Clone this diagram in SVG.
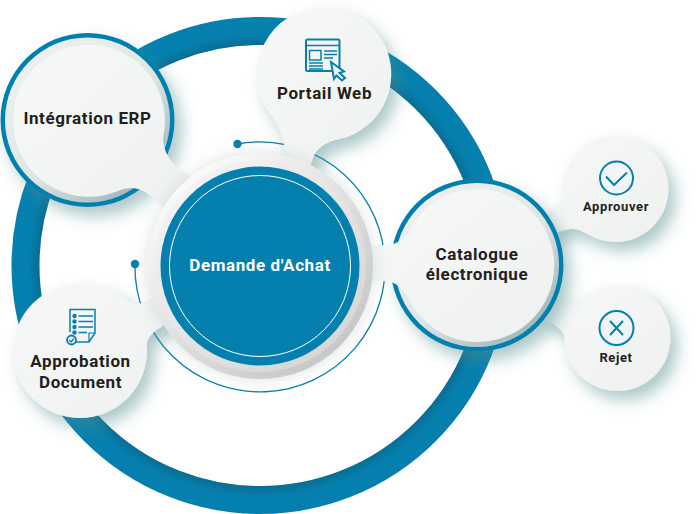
<svg xmlns="http://www.w3.org/2000/svg" width="696" height="514" viewBox="0 0 696 514">
<style>
text{font-family:Roboto,"Liberation Sans",sans-serif;font-weight:700;fill:#231f20;text-anchor:middle;letter-spacing:.6px}
.big{font-size:17px}
.small{font-size:13px}
.blob{fill:url(#blobFill);filter:url(#shadow)}
.ic{fill:none;stroke:#0580ae;stroke-width:2}
.blue{fill:#0580ae}
</style>
<defs>
<linearGradient id="blobFill" x1="0" y1="0" x2="1" y2="1"><stop offset="0" stop-color="#f7f8f8"/><stop offset="1" stop-color="#eff1f1"/></linearGradient>
<linearGradient id="rimFill" x1="0.15" y1="0.1" x2="0.85" y2="0.9"><stop offset="0" stop-color="#eef0f0"/><stop offset="0.55" stop-color="#dfe5e5"/><stop offset="1" stop-color="#9fb7b7"/></linearGradient>
<linearGradient id="greyOuter" x1="0.15" y1="0.1" x2="0.85" y2="0.9"><stop offset="0" stop-color="#fbfbfb"/><stop offset="1" stop-color="#c6c6c6"/></linearGradient>
<linearGradient id="greyInner" x1="0.15" y1="0.1" x2="0.85" y2="0.9"><stop offset="0" stop-color="#f3f3f3"/><stop offset="1" stop-color="#d6d6d6"/></linearGradient>
<radialGradient id="ringFill" gradientUnits="userSpaceOnUse" cx="260" cy="265.500" r="249"><stop offset="0.88" stop-color="#0a6a90"/><stop offset="0.93" stop-color="#0580ae"/><stop offset="1" stop-color="#0580ae"/></radialGradient>
<filter id="shadow" x="-30%" y="-30%" width="170%" height="170%"><feDropShadow dx="7" dy="9" stdDeviation="8" flood-color="#4f8c8c" flood-opacity="0.48"/></filter>
<filter id="soft" x="-20%" y="-20%" width="140%" height="140%"><feDropShadow dx="0" dy="0" stdDeviation="8" flood-color="#8aa0a0" flood-opacity="0.3"/></filter>
</defs>

<g id="connectors">
<circle cx="260" cy="265.500" r="234.500" fill="none" stroke="url(#ringFill)" stroke-width="28"/>
<path d="M237 144A125 125 0 1 1 135 264" fill="none" stroke="#0580ae" stroke-width="1.300"/>
<circle cx="237.500" cy="144" r="4.200" class="blue"/>
<circle cx="135" cy="264" r="4.200" class="blue"/>
</g>

<g id="node-erp">
<circle cx="87.500" cy="120" r="87" class="blue" filter="url(#shadow)"/>
<circle cx="87.500" cy="120" r="82.500" fill="url(#rimFill)"/>
<path class="blob" style="filter:none" d="M118 191A76 76 0 1 1 163 138C163 155 176 170 192 176L165 210C155 198 143 188 132 188C126 188 122 189 118 191Z"/>
<text x="87.500" y="123.500" class="big">Intégration ERP</text>
</g>

<g id="node-portail">
<path class="blob" d="M324 7A67 67 0 0 1 345 137.700C330 141 312 144 310 172L285 158C286 142 280 128 271 115A67 67 0 0 1 324 7Z"/>
<g id="icon-web" class="ic">
<rect x="306" y="39.500" width="33.500" height="31.500" rx="1.500"/>
<path d="M306 45.500H339.500M309.500 50.500H321V60H309.500ZM324 51H337M324 54.500H337M324 58H333M309 63H323M309 66H323M309 69H323" stroke-width="1.500"/>
<path d="M331 62L344 71.500 339.500 73 345 78 342 80.500 336.500 75.500 334 79Z" fill="#f2f4f4"/>
</g>
<text x="324.500" y="98.500" class="big">Portail Web</text>
</g>

<g id="node-approuver">
<path class="blob" d="M615.500 136A53 53 0 1 1 592 236.500C583 232 577 228 570 229C563 230 556 233 548 236L540 215C551 213 562 204 562.500 192A53 53 0 0 1 615.500 136Z"/>
<circle cx="616.500" cy="178" r="16.500" class="ic"/>
<path d="M606 176.500L614 185 627 172.500" class="ic"/>
<text x="616" y="211" class="small">Approuver</text>
</g>

<g id="node-rejet">
<path class="blob" d="M617.500 285A53 53 0 1 1 564.500 338C564 331 556 323 540 319L548 297C557 298 566 302 574 301C579 300 581 296 590.500 292.400A53 53 0 0 1 617.500 285Z"/>
<circle cx="616.500" cy="328" r="17" class="ic"/>
<path d="M610 321L623 335M623 321L610 335" class="ic" stroke-width="2.400"/>
<text x="616" y="362" class="small">Rejet</text>
</g>

<g id="node-catalogue">
<circle cx="477" cy="265" r="86.500" class="blue" filter="url(#shadow)"/>
<circle cx="477" cy="265" r="82" fill="url(#rimFill)"/>
<path class="blob" style="filter:none" d="M479 189A76.500 76.500 0 1 1 408 297C402 288 395 281 385 281H360V245H385C395 245 402 241 408 233A76.500 76.500 0 0 1 479 189Z"/>
<text x="477" y="260" class="big">Catalogue</text>
<text x="477" y="280" class="big">électronique</text>
</g>

<g id="node-approbation">
<path class="blob" d="M80 284C102 284 118 291 128 301C134 306 144 304 152 298L175 320C162 326 150 332 147 342C146.500 346 147 349 147 351A67 67 0 1 1 80 284Z"/>
<g id="icon-doc" class="ic">
<path d="M70 332V309.500H95V333L89 342H75" stroke-width="1.500"/>
<path d="M95 333H89V342" stroke-width="1.200"/>
<path d="M78.500 316H93M78.500 321.500H93M78.500 327H93M78.500 332.500H87" stroke-width="1.500"/>
</g>
<circle cx="74.500" cy="316" r="2.200" class="blue"/><circle cx="74.500" cy="321.500" r="2.200" class="blue"/><circle cx="74.500" cy="327" r="2.200" class="blue"/><circle cx="74.500" cy="332.500" r="2.200" class="blue"/>
<circle cx="71.500" cy="340" r="4.500" fill="#f2f4f4" stroke="#0580ae" stroke-width="1.800"/>
<path d="M69 340L71 342 74 338.500" fill="none" stroke="#0580ae" stroke-width="1.300"/>
<text x="80.500" y="367" class="big">Approbation</text>
<text x="80.500" y="387.500" class="big">Document</text>
</g>

<g id="node-center">
<circle cx="260" cy="266" r="113" fill="url(#greyOuter)" filter="url(#soft)"/>
<circle cx="260" cy="266" r="106" fill="url(#greyInner)"/>
<circle cx="260" cy="266" r="99.500" class="blue"/>
<circle cx="260" cy="266" r="90.500" fill="none" stroke="#fff" stroke-width="1"/>
<text x="260" y="271" class="big" style="fill:#fff">Demande d'Achat</text>
</g>
</svg>
